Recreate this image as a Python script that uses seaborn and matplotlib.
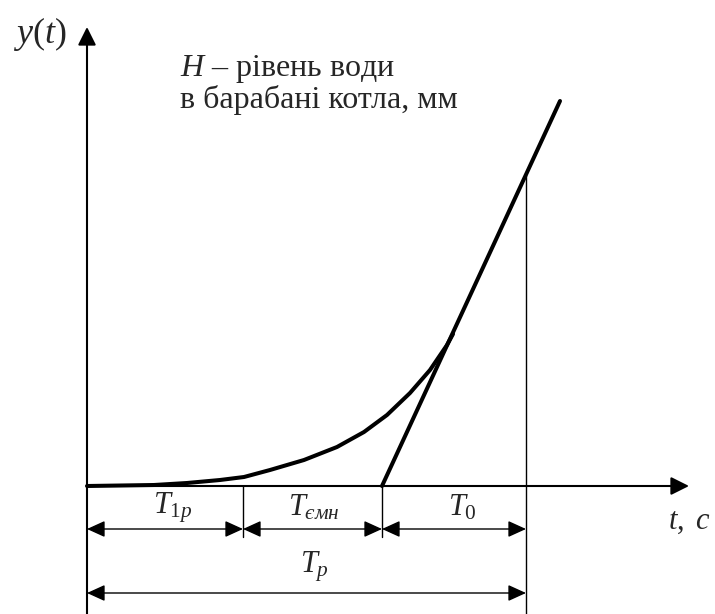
import numpy as np
import pandas as pd
import seaborn as sns
import matplotlib.pyplot as plt
from matplotlib.patches import FancyArrowPatch

# крива рівня (координати від початку осей, одиниці рисунка)
curve_t = [0, 67, 100, 133, 157, 183, 217, 250, 277, 300, 323, 343, 360, 366]
curve_y = [0, 1, 3, 6, 9, 16, 26, 39, 54, 71, 93, 116, 141, 152]

# дотична (пряма розгону)
tangent_t = [295, 473]
tangent_y = [0, 385]

# межі інтервалів на осі часу
t_marks = [0, 156, 295, 439]
interval_labels = [r'$T_{1p}$', r'$T_{ємн}$', r'$T_{0}$']
label_shift = [8, 1, 8]
total_label = r'$T_{p}$'

sns.set_theme(style="white")
plt.rcParams['font.family'] = ['Liberation Serif', 'DejaVu Serif']
plt.rcParams['mathtext.fontset'] = 'custom'
plt.rcParams['mathtext.it'] = 'Liberation Serif:italic'
plt.rcParams['mathtext.rm'] = 'Liberation Serif'

fig = plt.figure(figsize=(7.15, 6.14), dpi=100)
ax = fig.add_axes([0, 0, 1, 1])
ax.set_xlim(-87, 628)
ax.set_ylim(-128, 486)
ax.axis('off')

df_curve = pd.DataFrame({'t': curve_t, 'y': curve_y})
df_tan = pd.DataFrame({'t': tangent_t, 'y': tangent_y})
sns.lineplot(data=df_curve, x='t', y='y', ax=ax, color='black', lw=2.9,
             sort=False, estimator=None)
sns.lineplot(data=df_tan, x='t', y='y', ax=ax, color='black', lw=2.9,
             sort=False, estimator=None)
ax.lines[0].set_solid_joinstyle('round')


def arrow(p0, p1, style, lw=1.0):
    ax.add_patch(FancyArrowPatch(p0, p1, arrowstyle=style, mutation_scale=10,
                                 color='black', lw=lw, shrinkA=0, shrinkB=0))


head = '-|>,head_length=1.1,head_width=0.55'
dbl = '<|-|>,head_length=1.1,head_width=0.5'

# осі
arrow((0, -128), (0, 459), head, lw=1.5)
arrow((0, 0), (602, 0), head, lw=1.5)

# вертикальні виноски
slope = tangent_y[1] / (tangent_t[1] - tangent_t[0])
ax.plot([t_marks[3], t_marks[3]], [-128, slope * (t_marks[3] - tangent_t[0])],
        color='black', lw=1.0)
for tm in t_marks[1:3]:
    ax.plot([tm, tm], [0, -51], color='black', lw=1.0)

# розмірні стрілки
for i, lab in enumerate(interval_labels):
    arrow((t_marks[i], -43), (t_marks[i + 1], -43), dbl)
    ax.text((t_marks[i] + t_marks[i + 1]) / 2 + label_shift[i], -22, lab,
            fontsize=22, ha='center', va='center')
arrow((t_marks[0], -107), (t_marks[3], -107), dbl)
ax.text(t_marks[3] / 2 + 8, -81, total_label, fontsize=22, ha='center', va='center')

# підписи
ax.text(-47, 452, r'$y(t)$', fontsize=26, ha='center', va='center')
ax.text(603, -36, r'$t,\ c$', fontsize=22, ha='center', va='center')
ax.text(93, 417, r'$H$' + ' – рівень води', fontsize=23, ha='left', va='center')
ax.text(93, 386, 'в барабані котла, мм', fontsize=23, ha='left', va='center')

fig.savefig('out.png', dpi=100)
